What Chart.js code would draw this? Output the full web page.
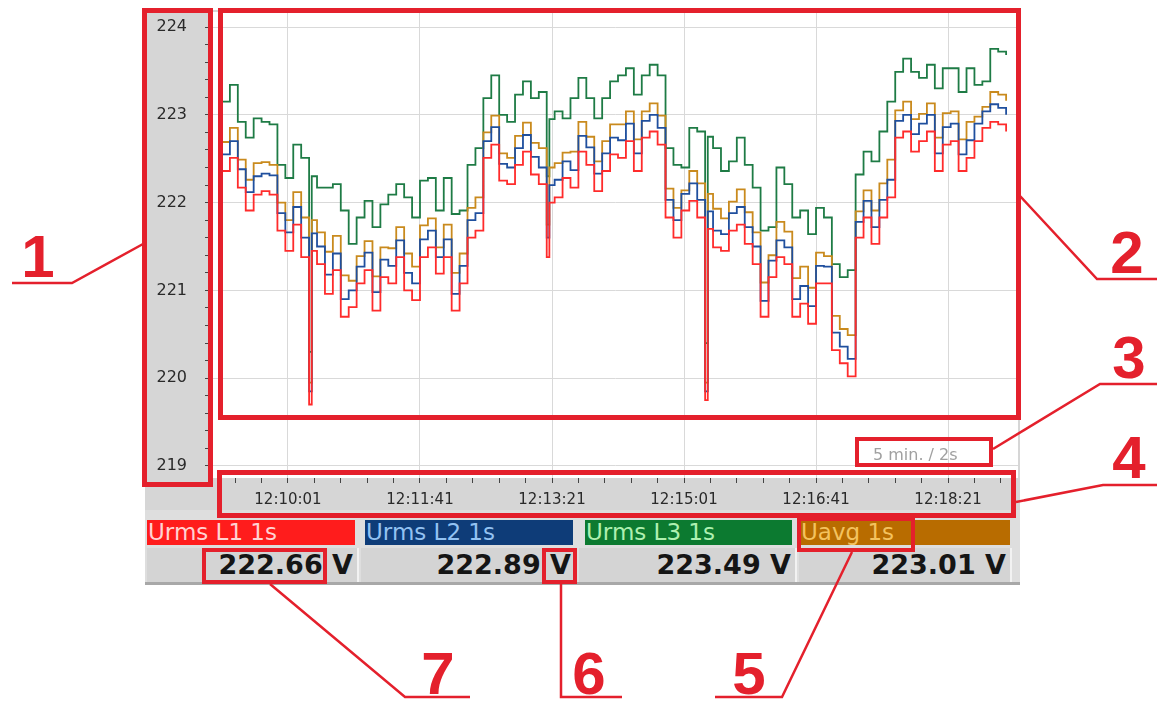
<!DOCTYPE html>
<html>
<head>
<meta charset="utf-8">
<script src="https://cdn.jsdelivr.net/npm/chart.js@4.4.1/dist/chart.umd.min.js"></script>
<style>
  html, body { margin: 0; padding: 0; background: #fff; }
  #wrap { position: relative; width: 1157px; height: 702px; overflow: hidden; background: #fff; font-family: "DejaVu Sans", sans-serif; }
  #chart { position: absolute; left: 0; top: 0; }
  #panel { position: absolute; left: 145px; top: 510px; width: 875px; height: 75px; background: #dedede; border-bottom: 3px solid #a8a8a8; box-sizing: border-box; }
  .leg { position: absolute; top: 520px; height: 25px; line-height: 25px; font-size: 23px; white-space: nowrap; overflow: hidden; padding-left: 1px; box-sizing: border-box; }
  .val { position: absolute; top: 548px; height: 34px; line-height: 34px; font-size: 27px; font-weight: bold; color: #151515; text-align: right; padding-right: 4px; box-sizing: border-box; background: #d4d4d4; border-right: 2px solid #f2f2f2; white-space: nowrap; }
  #anno { position: absolute; left: 0; top: 0; }
</style>
</head>
<body>
<div id="wrap">
  <canvas id="chart" width="1157" height="702"></canvas>
  <div id="panel"></div>
  <div class="leg" style="left:147px;width:208px;background:#ff1c1c;color:#ffd2d2;">Urms L1 1s</div>
  <div class="leg" style="left:365px;width:208px;background:#0e3c78;color:#93c2f2;">Urms L2 1s</div>
  <div class="leg" style="left:585px;width:207px;background:#0c7a30;color:#aef0b0;">Urms L3 1s</div>
  <div class="leg" style="left:800px;width:210px;background:#b86c00;color:#f4c25e;">Uavg 1s</div>
  <div class="val" style="left:147px;width:212px;">222.66 V</div>
  <div class="val" style="left:361px;width:216px;">222.89 V</div>
  <div class="val" style="left:579px;width:218px;">223.49 V</div>
  <div class="val" style="left:799px;width:213px;">223.01 V</div>
  <svg id="anno" width="1157" height="702" xmlns="http://www.w3.org/2000/svg">
    <g fill="none" stroke="#e4202c">
      <rect x="144.5" y="10.5" width="66" height="474" stroke-width="5"/>
      <rect x="220.5" y="10.5" width="798" height="407" stroke-width="5"/>
      <rect x="857" y="439" width="134" height="26" stroke-width="4"/>
      <rect x="219.5" y="472.5" width="794" height="43" stroke-width="5"/>
      <rect x="799" y="519" width="114" height="31" stroke-width="4"/>
      <rect x="544" y="550" width="31" height="32" stroke-width="4"/>
      <rect x="204" y="550" width="121" height="32" stroke-width="4"/>
      <g stroke-width="2.5">
        <polyline points="143,244 72,283 12,283"/>
        <polyline points="1020,196 1097,279 1157,279"/>
        <polyline points="993,449 1100,384 1157,384"/>
        <polyline points="1016,502 1103,485 1157,485"/>
        <polyline points="852,552 782,697 715,697"/>
        <polyline points="561,584 561,697 622,697"/>
        <polyline points="270,584 405,697 470,697"/>
      </g>
    </g>
    <text x="873" y="460" font-family="DejaVu Sans" font-size="16" fill="#a0a0a0">5 min. / 2s</text>
    <g font-family="Liberation Sans, Arial, sans-serif" font-weight="bold" font-size="60" fill="#e4202c" text-anchor="middle">
      <text x="38" y="277">1</text>
      <text x="1127" y="273">2</text>
      <text x="1129" y="378">3</text>
      <text x="1129" y="478">4</text>
      <text x="749" y="694">5</text>
      <text x="589" y="694">6</text>
      <text x="438" y="694">7</text>
    </g>
  </svg>
</div>
<script>
// seconds relative to 12:10:01
const sampleTimes = [
  -50,-44,-38,-32,-26,-20,-14,-8,-2,4,
  10,16,18,22,28,34,40,46,52,58,64,
  70,76,82,88,94,100,106,112,118,124,
  130,136,142,148,154,160,166,172,178,184,
  190,196,198,202,208,214,220,226,232,238,244,
  250,256,262,268,274,280,286,292,298,304,
  310,316,318,322,328,334,340,346,352,358,364,
  370,376,382,388,394,400,406,412,418,424,
  430,436,442,448,454,460,466,472,478,484,
  490,496,502,508,514,520,526,532,538,544
];
const urmsL1 = [
  222.36,222.51,222.17,221.91,222.09,222.13,222.09,221.68,221.45,221.75,
  221.38,219.70,221.45,221.30,220.96,221.23,220.70,220.81,221.08,221.23,220.77,
  221.15,221.08,221.38,221.00,220.89,221.38,221.49,221.19,221.38,220.77,
  221.08,221.60,221.68,222.51,222.66,222.25,222.21,222.43,222.58,222.32,
  222.21,221.38,222.00,222.06,222.28,222.17,222.58,222.43,222.13,222.36,222.55,
  222.51,222.70,222.36,222.74,222.81,222.66,221.83,221.60,221.91,222.02,
  221.83,219.75,221.70,221.49,221.45,221.68,221.75,221.53,221.30,220.70,221.15,
  221.38,221.30,220.70,220.85,220.62,221.08,221.08,220.32,220.17,220.02,
  221.60,221.83,221.53,221.83,222.06,222.74,222.81,222.58,222.70,222.81,
  222.36,222.66,222.70,222.36,222.51,222.70,222.85,222.92,222.89,222.81
];
const urmsL2 = [
  222.55,222.70,222.38,222.12,222.30,222.33,222.31,221.88,221.66,221.95,
  221.60,219.85,221.65,221.50,221.18,221.42,220.90,221.00,221.27,221.43,220.98,
  221.35,221.28,221.57,221.20,221.08,221.58,221.68,221.38,221.58,220.96,
  221.28,221.80,221.88,222.70,222.86,222.44,222.40,222.62,222.77,222.52,
  222.40,221.60,222.20,222.26,222.47,222.37,222.76,222.63,222.33,222.56,222.74,
  222.71,222.90,222.56,222.93,223.00,222.85,222.03,221.80,222.10,222.22,
  222.03,219.85,221.90,221.68,221.64,221.88,221.95,221.72,221.50,220.88,221.34,
  221.57,221.49,220.90,221.05,220.82,221.28,221.27,220.52,220.36,220.22,
  221.78,222.02,221.72,222.03,222.26,222.93,223.00,222.78,222.90,223.00,
  222.56,222.86,222.90,222.55,222.71,222.90,223.04,223.12,223.08,223.00
];
const urmsL3 = [
  223.15,223.34,222.92,222.74,222.96,222.92,222.89,222.43,222.28,222.66,
  222.51,220.30,222.30,222.17,222.17,222.21,221.91,221.53,221.83,222.02,221.72,
  221.98,222.09,222.21,222.06,221.83,222.25,222.28,221.91,222.28,221.87,
  221.91,222.43,222.62,223.19,223.45,223.00,222.92,223.23,223.38,223.19,
  223.26,222.30,222.95,223.04,222.96,223.19,223.42,223.19,222.96,223.19,223.38,
  223.45,223.53,223.23,223.45,223.57,223.45,222.62,222.43,222.40,222.85,
  222.81,220.40,222.75,222.62,222.36,222.47,222.74,222.43,222.17,221.68,221.72,
  222.40,222.21,221.83,221.91,221.64,221.94,221.83,221.30,221.15,221.23,
  222.32,222.58,222.47,222.81,223.15,223.49,223.64,223.49,223.42,223.57,
  223.30,223.53,223.53,223.26,223.53,223.34,223.38,223.75,223.72,223.68
];
const uavg = [
  222.69,222.85,222.49,222.26,222.45,222.46,222.43,222.00,221.80,222.12,
  221.83,219.95,221.80,221.66,221.44,221.62,221.17,221.11,221.39,221.56,221.16,
  221.49,221.48,221.72,221.42,221.27,221.74,221.82,221.49,221.75,221.20,
  221.42,221.94,222.06,222.80,222.99,222.56,222.51,222.76,222.91,222.68,
  222.62,221.75,222.40,222.45,222.57,222.58,222.92,222.75,222.47,222.70,222.89,
  222.89,223.04,222.72,223.04,223.13,222.99,222.16,221.94,222.14,222.36,
  222.22,219.95,222.10,221.93,221.82,222.01,222.15,221.89,221.66,221.09,221.40,
  221.78,221.67,221.14,221.27,221.03,221.43,221.39,220.71,220.56,220.49,
  221.90,222.14,221.91,222.22,222.49,223.05,223.15,222.95,223.01,223.13,
  222.74,223.02,223.04,222.72,222.92,222.98,223.09,223.26,223.23,223.16
];
const xTickLabels = ["12:10:01","12:11:41","12:13:21","12:15:01","12:16:41","12:18:21"];
const xTickTimes = [0,100,200,300,400,500];
const yTickLabels = ["219","220","221","222","223","224"];

function pts(vals){ return sampleTimes.map((t,i)=>({x:t,y:vals[i]})); }
function isMajorY(v){ return Math.abs(v-Math.round(v))<1e-6; }
function isMajorX(v){ return xTickTimes.some(t=>Math.abs(t-v)<1e-6); }

const bgPlugin = {
  id:'bg',
  beforeDraw(chart){
    const c=chart.ctx, a=chart.chartArea;
    c.save();
    c.fillStyle='#d6d6d6';
    c.fillRect(145,10,875,500);
    c.fillStyle='#ffffff';
    c.fillRect(a.left,a.top,a.right-a.left,a.bottom-a.top);
    c.restore();
  }
};

const ds = (label,vals,color)=>({label,data:pts(vals),borderColor:color,borderWidth:1.8,pointRadius:0,stepped:true,fill:false,tension:0});

new Chart(document.getElementById('chart'),{
  type:'line',
  data:{datasets:[
    ds('Urms L1 1s',urmsL1,'#ff2b2b'),
    ds('Urms L2 1s',urmsL2,'#1f4f9e'),
    ds('Uavg 1s',uavg,'#c98a1d'),
    ds('Urms L3 1s',urmsL3,'#1e7b45')
  ]},
  options:{
    responsive:false, animation:false, devicePixelRatio:1,
    layout:{padding:{left:145,right:139,top:12,bottom:192}},
    plugins:{legend:{display:false},tooltip:{enabled:false}},
    scales:{
      x:{type:'linear',min:-56.8,max:553,
        afterFit(s){ s.height=32; s.paddingLeft=0; s.paddingRight=0; },
        border:{display:false},
        grid:{color:c=>isMajorX(c.tick.value)?'#d9d9d9':'rgba(0,0,0,0)',tickColor:'#444',tickLength:5,lineWidth:1},
        ticks:{stepSize:20,includeBounds:false,autoSkip:false,maxRotation:0,padding:8,color:'#2a2a2a',
          font:{family:'DejaVu Sans',size:15},
          callback:v=>{const k=xTickTimes.findIndex(t=>Math.abs(t-v)<1e-6);return k>=0?xTickLabels[k]:'';}}
      },
      y:{type:'linear',min:218.863,max:224.171,
        afterFit(s){ s.width=68; s.paddingTop=0; s.paddingBottom=0; },
        border:{display:false},
        grid:{color:c=>isMajorY(c.tick.value)?'#d9d9d9':'rgba(0,0,0,0)',tickColor:'#444',tickLength:8,lineWidth:1},
        ticks:{stepSize:0.2,includeBounds:false,autoSkip:false,maxTicksLimit:1000,padding:18,color:'#2a2a2a',
          font:{family:'DejaVu Sans',size:16},
          callback:v=>{if(!isMajorY(v))return '';const k=Math.round(v)-219;return yTickLabels[k]||'';}}
      }
    }
  },
  plugins:[bgPlugin]
});
</script>
</body>
</html>
